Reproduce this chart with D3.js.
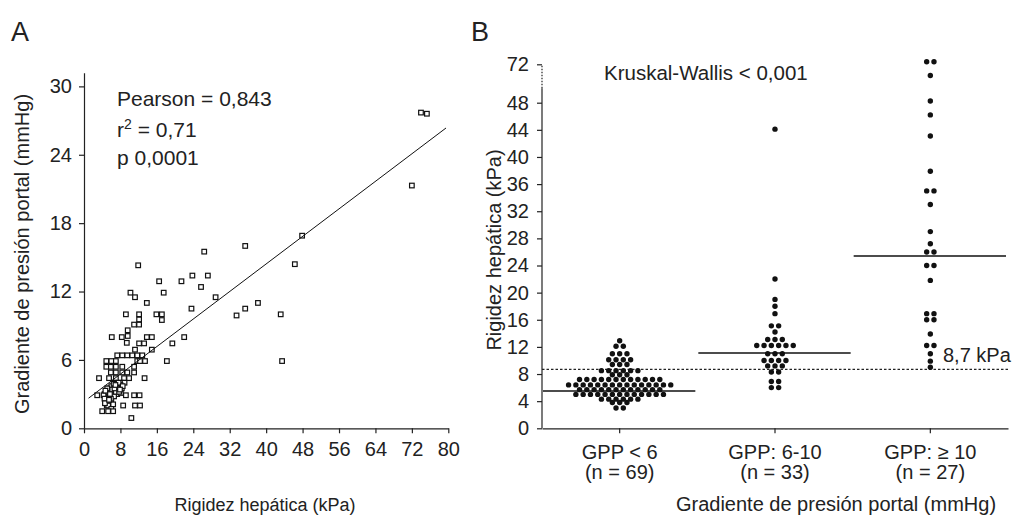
<!DOCTYPE html>
<html>
<head>
<meta charset="utf-8">
<script src="https://cdn.jsdelivr.net/npm/d3@7"></script>
<style>
body { margin: 0; background: #fff; }
svg { font-family: "Liberation Sans", Arial, sans-serif; }
.eje path, .eje line { stroke: #222; stroke-width: 1.2; }
.eje text { fill: #222; font-size: 20px; }
</style>
</head>
<body>
<div id="grafico"></div>
<script>
// Panel A: rigidez hepatica (kPa) vs gradiente de presion portal (mmHg)
var rigidezA = [74.0, 75.3, 72.0, 47.9, 35.4, 26.4, 46.3, 11.9, 23.8, 27.2, 16.5, 21.4, 25.7, 17.5, 10.2, 11.2, 28.9, 38.2, 13.8, 35.4,
    23.6, 33.5, 43.2, 9.2, 12.1, 12.1, 15.9, 17.1, 17.1, 11.0, 12.1, 9.6, 9.6, 6.1, 8.3, 13.8, 14.9, 22.0, 19.4, 12.1,
    13.2, 11.2, 14.9, 18.2, 43.5, 9.4, 7.3, 8.4, 9.5, 10.6, 11.7, 12.8, 4.9, 6.0, 7.0, 11.7, 12.3, 13.4, 4.9, 5.9,
    7.0, 8.4, 11.0, 5.9, 7.0, 8.4, 9.5, 11.0, 3.3, 5.5, 7.0, 8.8, 9.9, 13.3, 6.6, 8.1, 8.9, 4.5, 5.0, 5.5,
    6.0, 6.5, 7.0, 7.5, 8.0, 5.2, 5.8, 6.3, 6.8, 7.3, 7.8, 4.8, 5.4, 6.0, 6.6, 7.1, 8.3, 4.3, 5.1, 6.2,
    7.6, 5.6, 6.4, 5.0, 4.5, 7.0, 8.1, 2.9, 9.2, 11.0, 12.2, 8.6, 11.2, 12.3, 5.3, 6.0, 4.0, 5.3, 6.4, 10.4,
    4.7, 5.7, 6.7, 7.7, 8.5, 5.9, 6.9, 7.9, 4.6, 5.5];
var gradienteA = [27.7, 27.6, 21.3, 16.9, 16.0, 15.5, 14.4, 14.3, 13.4, 13.4, 12.9, 12.9, 12.4, 11.9, 11.9, 11.5, 11.5, 11.0, 11.0, 10.5,
    10.5, 9.9, 10.0, 10.0, 10.0, 9.55, 10.0, 10.0, 9.5, 9.1, 9.1, 8.6, 8.1, 8.0, 8.0, 8.0, 8.0, 8.0, 7.45, 7.45,
    7.45, 6.9, 6.9, 5.9, 5.9, 7.5, 6.4, 6.4, 6.4, 6.4, 6.4, 6.4, 5.9, 5.9, 5.9, 5.9, 5.9, 5.9, 5.4, 5.4,
    5.4, 5.4, 5.4, 4.9, 4.9, 4.9, 4.9, 4.9, 4.4, 4.4, 4.4, 4.4, 4.4, 4.4, 4.0, 4.0, 4.0, 3.0, 3.2, 3.5,
    3.7, 3.9, 3.6, 3.4, 3.8, 2.7, 2.9, 3.1, 3.3, 3.0, 3.6, 2.4, 2.2, 2.5, 2.8, 3.9, 3.5, 2.9, 3.5, 3.4,
    4.0, 2.0, 2.1, 2.0, 2.6, 3.2, 3.1, 2.9, 2.9, 2.9, 2.9, 2.0, 2.0, 2.0, 2.0, 1.7, 1.5, 1.5, 1.5, 0.9,
    3.3, 3.0, 3.5, 3.2, 3.7, 2.6, 3.8, 3.4, 2.2, 2.5];
var ticksXA = [0, 8, 16, 24, 32, 40, 48, 56, 64, 72, 80];
var ticksYA = [0, 6, 12, 18, 24, 30];
var pendienteA = 0.302;
var interceptoA = 2.34;
var rectaDesdeA = 1;
var rectaHastaA = 79.5;

// Panel B: rigidez hepatica por grupo de GPP
var categoriasB = ["GPP < 6", "GPP: 6-10", "GPP: \u2265 10"];
var tamanosB = ["(n = 69)", "(n = 33)", "(n = 27)"];
var rigidezGrupo1 = [12.9, 12.1, 12.1, 11.0, 11.0, 11.0, 10.1, 10.1, 10.1, 10.1, 9.4, 9.4, 9.4,
    8.5, 8.5, 8.5, 8.5, 8.5, 8.5, 7.9, 7.9, 7.9,
    7.2, 7.2, 7.2, 7.2, 7.2, 7.2, 7.2, 7.2, 7.2, 7.2, 7.2, 7.2,
    6.4, 6.4, 6.4, 6.4, 6.4, 6.4, 6.4, 6.4, 6.4, 6.4, 6.4, 6.4, 6.4, 6.4, 6.4,
    5.7, 5.7, 5.7, 5.7, 5.7, 5.7, 5.7, 5.7, 5.7, 5.7, 5.7, 5.7,
    5.0, 5.0, 5.0, 5.0, 5.0, 5.0, 5.0, 5.0, 5.0, 5.0, 5.0, 5.0, 5.0,
    4.3, 4.3, 4.3, 4.3, 4.3, 4.3, 3.8, 3.8, 3.8, 3.0, 3.0];
var rigidezGrupo2 = [44.1, 22.0, 19.0, 18.0, 16.9, 15.1, 15.1, 14.2, 13.1, 13.1, 13.1,
    12.2, 12.2, 12.2, 12.2, 12.2, 12.2, 11.0, 11.0, 11.0, 10.0, 10.0, 10.0, 10.0,
    9.2, 9.2, 9.2, 8.3, 8.3, 6.9, 6.9, 6.0, 6.0];
var rigidezGrupo3 = [73.6, 73.6, 65.0, 49.1, 46.2, 43.1, 37.9, 35.0, 35.0, 33.0, 29.0, 27.2, 26.0, 26.0,
    24.0, 24.0, 21.8, 16.9, 16.9, 16.0, 16.0, 13.9, 12.2, 12.2, 11.0, 9.9, 9.0];
var medianasB = [5.5, 11.1, 25.4];
var corteB = 8.7;
var ticksYB = [0, 4, 8, 12, 16, 20, 24, 28, 32, 36, 40, 44, 48, 72];
var corteEjeB = 57;

var W = 1036, H = 517;
var svg = d3.select("#grafico").append("svg")
    .attr("width", W)
    .attr("height", H)
    .attr("viewBox", "0 0 " + W + " " + H);

// ---------------- panel A ----------------
var xA = d3.scaleLinear().domain([0, 80]).range([84, 448.3]);
var yA = d3.scaleLinear().domain([0, 31.2]).range([428.3, 72.7]);

svg.append("text").attr("x", 11).attr("y", 41).attr("font-size", 27).attr("fill", "#222").text("A");

svg.append("g")
    .attr("class", "eje")
    .attr("transform", "translate(0," + yA(0) + ")")
    .call(d3.axisBottom(xA).tickValues(ticksXA).tickSize(5).tickSizeOuter(0).tickPadding(9));

svg.append("g")
    .attr("class", "eje")
    .attr("transform", "translate(" + xA(0) + ",0)")
    .call(d3.axisLeft(yA).tickValues(ticksYA).tickSize(5).tickSizeOuter(0).tickPadding(7));

var puntosA = rigidezA.map(function(d, i) { return { x: d, y: gradienteA[i] }; });
var lado = 4.6;
svg.append("g")
    .selectAll("rect")
    .data(puntosA)
    .enter()
    .append("rect")
    .attr("x", function(d) { return xA(d.x) - lado / 2; })
    .attr("y", function(d) { return yA(d.y) - lado / 2; })
    .attr("width", lado)
    .attr("height", lado)
    .attr("fill", "#fff")
    .attr("stroke", "#111")
    .attr("stroke-width", 1.2);

svg.append("line")
    .attr("x1", xA(rectaDesdeA))
    .attr("y1", yA(interceptoA + pendienteA * rectaDesdeA))
    .attr("x2", xA(rectaHastaA))
    .attr("y2", yA(interceptoA + pendienteA * rectaHastaA))
    .attr("stroke", "#111")
    .attr("stroke-width", 1);

var notas = svg.append("g").attr("font-size", 21).attr("fill", "#222");
notas.append("text").attr("x", 117).attr("y", 106).text("Pearson = 0,843");
var r2 = notas.append("text").attr("x", 117).attr("y", 137);
r2.append("tspan").text("r");
r2.append("tspan").attr("font-size", 14).attr("dy", -8).text("2");
r2.append("tspan").attr("dy", 8).text(" = 0,71");
notas.append("text").attr("x", 117).attr("y", 165).text("p 0,0001");

svg.append("text")
    .attr("x", 265).attr("y", 511)
    .attr("text-anchor", "middle").attr("font-size", 18).attr("fill", "#222")
    .text("Rigidez hepática (kPa)");

svg.append("text")
    .attr("transform", "translate(29," + 254 + ") rotate(-90)")
    .attr("text-anchor", "middle").attr("font-size", 20).attr("fill", "#222")
    .text("Gradiente de presión portal (mmHg)");

// ---------------- panel B ----------------
var xB = d3.scaleBand().domain(categoriasB).range([542, 1008]);
var yB = d3.scaleLinear().domain([0, 48, 72]).range([428.3, 102.7, 64.3]);

svg.append("text").attr("x", 471).attr("y", 41).attr("font-size", 27).attr("fill", "#222").text("B");

var ejeXB = svg.append("g")
    .attr("class", "eje")
    .attr("transform", "translate(0," + yB(0) + ")")
    .call(d3.axisBottom(xB).tickSize(5).tickSizeOuter(0).tickFormat(""));

ejeXB.selectAll(".tick").append("text")
    .attr("y", 31).attr("text-anchor", "middle").attr("font-size", 16.5).attr("fill", "#222")
    .text(function(d) { return d; });
ejeXB.selectAll(".tick").append("text")
    .attr("y", 51).attr("text-anchor", "middle").attr("font-size", 16.5).attr("fill", "#222")
    .text(function(d, i) { return tamanosB[i]; });

var ejeYB = svg.append("g")
    .attr("class", "eje")
    .attr("transform", "translate(542,0)")
    .call(d3.axisLeft(yB).tickValues(ticksYB).tickSize(5).tickSizeOuter(0).tickPadding(8));
ejeYB.select(".domain").remove();
ejeYB.append("line")
    .attr("y1", yB(0)).attr("y2", yB(corteEjeB))
    .attr("stroke", "#222").attr("stroke-width", 1.2);
ejeYB.append("line")
    .attr("y1", yB(corteEjeB)).attr("y2", yB(72))
    .attr("stroke", "#222").attr("stroke-width", 1)
    .attr("stroke-dasharray", "1.5,1.5");

// linea de corte 8,7 kPa
svg.append("line")
    .attr("x1", xB.range()[0]).attr("x2", xB.range()[1])
    .attr("y1", yB(corteB)).attr("y2", yB(corteB))
    .attr("stroke", "#222").attr("stroke-width", 1.2)
    .attr("stroke-dasharray", "2.5,2");
svg.append("text")
    .attr("x", 943).attr("y", 362).attr("font-size", 20).attr("fill", "#222")
    .text("8,7 kPa");

// medianas
svg.append("g")
    .selectAll("line")
    .data(medianasB)
    .enter()
    .append("line")
    .attr("x1", function(d, i) { return xB(categoriasB[i]) + 1; })
    .attr("x2", function(d, i) { return xB(categoriasB[i]) + xB.bandwidth() - 2; })
    .attr("y1", function(d) { return yB(d); })
    .attr("y2", function(d) { return yB(d); })
    .attr("stroke", "#111")
    .attr("stroke-width", 1.4);

// puntos: los valores iguales se colocan en fila, centrados
var grupos = [rigidezGrupo1, rigidezGrupo2, rigidezGrupo3];
var sep = 7.3;
var puntosB = [];
grupos.forEach(function(vals, g) {
    var cuenta = d3.rollup(vals, function(v) { return v.length; }, function(v) { return v; });
    var visto = new Map();
    vals.forEach(function(v) {
        var k = cuenta.get(v);
        var j = visto.get(v) || 0;
        visto.set(v, j + 1);
        puntosB.push({ grupo: g, valor: v, desp: (j - (k - 1) / 2) * sep });
    });
});

svg.append("g")
    .selectAll("circle")
    .data(puntosB)
    .enter()
    .append("circle")
    .attr("cx", function(d) { return xB(categoriasB[d.grupo]) + xB.bandwidth() / 2 + d.desp; })
    .attr("cy", function(d) { return yB(d.valor); })
    .attr("r", 2.7)
    .attr("fill", "#111");

svg.append("text")
    .attr("x", 604).attr("y", 80).attr("font-size", 20.5).attr("fill", "#222")
    .text("Kruskal-Wallis < 0,001");

svg.append("text")
    .attr("x", 836).attr("y", 511)
    .attr("text-anchor", "middle").attr("font-size", 20).attr("fill", "#222")
    .text("Gradiente de presión portal (mmHg)");

svg.append("text")
    .attr("transform", "translate(501," + 250 + ") rotate(-90)")
    .attr("text-anchor", "middle").attr("font-size", 20).attr("fill", "#222")
    .text("Rigidez hepática (kPa)");
</script>
</body>
</html>
